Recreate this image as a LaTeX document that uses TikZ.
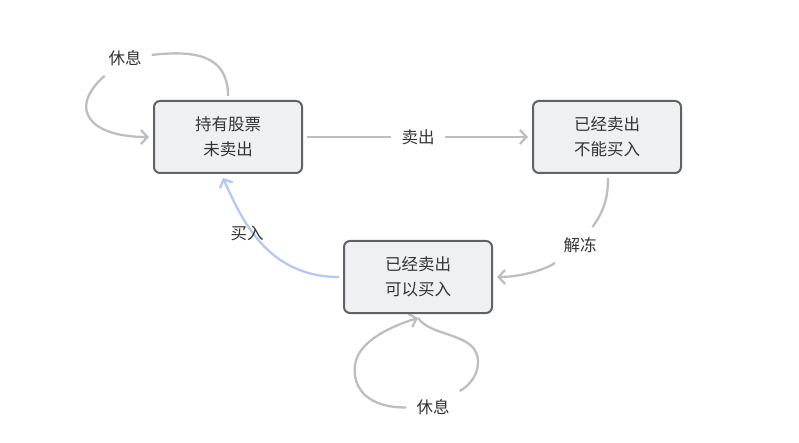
\documentclass[tikz,border=0pt]{standalone}
\usepackage{fontspec}
\setmainfont{Noto Sans CJK SC}
\usetikzlibrary{arrows.meta}
\pgfdeclarelayer{edgelayer}
\pgfdeclarelayer{nodelayer}
\pgfsetlayers{edgelayer,nodelayer,main}
\definecolor{boxfill}{HTML}{EFF0F2}
\definecolor{boxline}{HTML}{5F6368}
\definecolor{edgegray}{HTML}{BDBEC2}
\definecolor{edgeblue}{HTML}{B4C7F5}
\definecolor{txt}{HTML}{333333}
\tikzset{font=\fontsize{16.5}{25}\selectfont}
\tikzstyle{none}=[inner sep=0pt]
\tikzstyle{state}=[rectangle,rounded corners=6pt,draw=boxline,fill=boxfill,line width=2pt,minimum width=148pt,minimum height=72pt,align=center,text=txt,outer sep=5pt]
\tikzstyle{lbl}=[inner sep=10pt,text=txt]
\tikzstyle{line}=[draw=edgegray,line width=2.3pt]
\tikzstyle{edge}=[line,-{Straight Barb[length=6.5pt,width=14pt]}]

\begin{document}
\begin{tikzpicture}[x=1pt,y=-1pt]
	\useasboundingbox (0,0) rectangle (799,443);
	\begin{pgfonlayer}{nodelayer}
		\node [style=state] (0) at (228, 137) {持有股票\\未卖出};
		\node [style=state] (1) at (607, 137) {已经卖出\\不能买入};
		\node [style=state] (2) at (418, 277) {已经卖出\\可以买入};
		\node [style=lbl] (5) at (125, 58) {休息};
		\node [style=lbl] (6) at (418, 137) {卖出};
		\node [style=lbl] (7) at (580, 245) {解冻};
		\node [style=lbl] (8) at (247, 233) {买入};
		\node [style=lbl] (9) at (433, 407) {休息};
	\end{pgfonlayer}
	\begin{pgfonlayer}{edgelayer}
		\draw[style=line] (0.north) .. controls (228, 55) and (195, 50) .. (5);
		\draw[style=edge] (5) .. controls (68, 108) and (88, 137) .. (0.west);
		\draw[style=line] (0.east) to (6);
		\draw[style=edge] (6) to (1.west);
		\draw[style=line] ([xshift=1pt]1.south) .. controls (608, 200) and (603, 212) .. (7);
		\draw[style=edge] (7) .. controls (545, 270) and (520, 277) .. (2.east);
		\draw[style=edge, draw=edgeblue] (2.west) .. controls (265, 277) and (240, 215) .. ([xshift=-5pt]0.south);
		\draw[style=line] (2.south) .. controls (432, 338) and (478, 332) .. (478, 362) .. controls (478, 375) and (470, 385) .. (9);
		\draw[style=edge] (9) .. controls (370, 408) and (352, 390) .. (355, 365) .. controls (358, 340) and (395, 325) .. (2.south);
	\end{pgfonlayer}
\end{tikzpicture}
\end{document}
